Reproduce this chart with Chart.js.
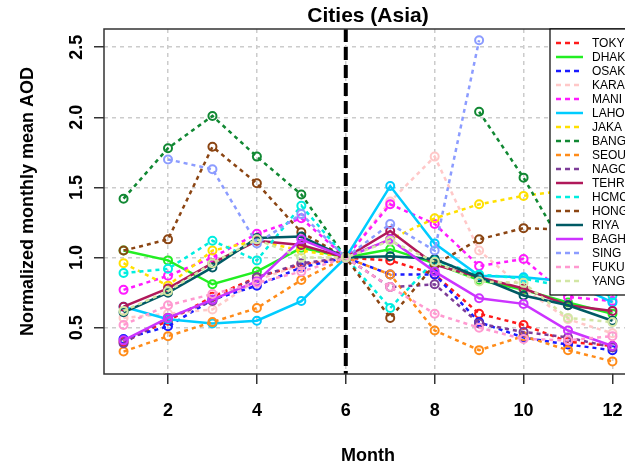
<!DOCTYPE html>
<html>
<head>
<meta charset="utf-8">
<script src="https://cdn.jsdelivr.net/npm/chart.js@4"></script>
<style>
html, body { margin: 0; padding: 0; background: #fff; overflow: hidden; width: 625px; height: 468px; }
#wrap { width: 645px; height: 468px; }
</style>
</head>
<body>
<div id="wrap"><canvas id="myChart" width="645" height="468"></canvas></div>
<script>
// data (normalized monthly mean AOD, month 6 = 1)
const months = [1, 2, 3, 4, 5, 6, 7, 8, 9, 10, 11, 12];
const xTicks = [2, 4, 6, 8, 10, 12];
const xTickLabels = ['2', '4', '6', '8', '10', '12'];
const yTicks = [0.5, 1.0, 1.5, 2.0, 2.5];
const yTickLabels = ['0.5', '1.0', '1.5', '2.0', '2.5'];

const cityNames = ['TOKY', 'DHAK', 'OSAK', 'KARA', 'MANI', 'LAHO', 'JAKA', 'BANG', 'SEOU',
                   'NAGO', 'TEHR', 'HCMC', 'HONG', 'RIYA', 'BAGH', 'SING', 'FUKU', 'YANG'];

const TOKY = [0.40, 0.55, 0.72, 0.86, 0.95, 1, 0.98, 0.88, 0.60, 0.52, 0.40, 0.37];
const DHAK = [1.05, 0.98, 0.81, 0.90, 1.07, 1, 1.06, 0.96, 0.84, 0.77, 0.68, 0.60];
const OSAK = [0.42, 0.51, 0.70, 0.80, 0.93, 1, 0.88, 0.88, 0.54, 0.43, 0.38, 0.34];
const KARA = [0.57, 0.60, 0.63, 0.84, 0.95, 1, 1.40, 1.72, 1.05, 0.78, 0.56, 0.46];
const MANI = [0.77, 0.87, 1.00, 1.17, 1.28, 1, 1.38, 1.24, 0.94, 0.99, 0.72, 0.69];
const LAHO = [0.65, 0.56, 0.53, 0.55, 0.69, 1, 1.51, 1.10, 0.87, 0.86, 0.83, 0.68];
const JAKA = [0.96, 0.80, 1.05, 1.12, 1.05, 1, 1.13, 1.28, 1.38, 1.44, 1.48, 1.55];
const BANG = [1.42, 1.78, 2.01, 1.72, 1.45, 1, null, null, 2.04, 1.57, 1.02, 0.92];
const SEOU = [0.33, 0.44, 0.54, 0.64, 0.84, 1, 0.88, 0.48, 0.34, 0.44, 0.34, 0.26];
const NAGO = [0.39, 0.57, 0.69, 0.86, 0.96, 1, 0.79, 0.81, 0.53, 0.47, 0.43, 0.36];
const TEHR = [0.65, 0.78, 0.96, 1.12, 1.09, 1, 1.19, 0.95, 0.86, 0.78, 0.66, 0.62];
const HCMC = [0.89, 0.92, 1.12, 0.98, 1.37, 1, 0.64, 0.98, 0.88, 0.85, 0.79, 0.73];
const HONG = [1.05, 1.13, 1.79, 1.53, 1.18, 1, 0.57, 0.95, 1.13, 1.21, 1.20, 1.10];
const RIYA = [0.61, 0.75, 0.93, 1.14, 1.15, 1, 1.01, 0.99, 0.86, 0.73, 0.66, 0.55];
const BAGH = [0.41, 0.57, 0.70, 0.83, 1.13, 1, 1.13, 0.90, 0.71, 0.67, 0.48, 0.37];
const SING = [null, 1.70, 1.63, 1.10, 1.31, 1, 1.24, 1.05, 2.55, null, null, null];
const FUKU = [0.52, 0.66, 0.74, 0.82, 0.90, 1, 0.79, 0.60, 0.50, 0.42, 0.41, 0.44];
const YANG = [0.62, 0.76, 0.96, 1.13, 1.00, 1, 1.12, 0.97, 0.83, 0.82, 0.57, 0.54];

const seriesList = [TOKY, DHAK, OSAK, KARA, MANI, LAHO, JAKA, BANG, SEOU,
                    NAGO, TEHR, HCMC, HONG, RIYA, BAGH, SING, FUKU, YANG];

// styles
const cityColors = ['#ff1a1a', '#22ee22', '#1a1aff', '#ffc8c8', '#ff1aff', '#00ccff', '#ffe000', '#118833', '#ff8c1a',
                    '#7d3c98', '#b0185a', '#00eee0', '#8b4513', '#005a64', '#cc33ff', '#8c9cff', '#ff99d0', '#d2e6a4'];
const solidCities = ['DHAK', 'LAHO', 'TEHR', 'RIYA', 'BAGH'];

const FONT = '"Liberation Sans", Arial, Helvetica, sans-serif';
const PLOT = { left: 104, top: 29, right: 632, bottom: 374 };

const ctx = document.getElementById('myChart').getContext('2d');

let datasets = [];
for (let i = 0; i < cityNames.length; i++) {
    let pts = [];
    for (let j = 0; j < months.length; j++) {
        pts.push({ x: months[j], y: seriesList[i][j] });
    }
    datasets.push({
        label: cityNames[i],
        data: pts,
        borderColor: cityColors[i],
        backgroundColor: 'rgba(0,0,0,0)',
        borderWidth: 2.5,
        borderDash: solidCities.includes(cityNames[i]) ? [] : [4, 4],
        pointRadius: 4,
        pointBorderWidth: 2,
        pointBackgroundColor: 'rgba(0,0,0,0)',
        pointBorderColor: cityColors[i],
        tension: 0,
        spanGaps: false,
        order: cityNames.length - i
    });
}

const decor = {
    id: 'decor',
    afterDatasetsDraw(chart) {
        const c = chart.ctx, xs = chart.scales.x, a = chart.chartArea;
        // vertical dashed line at month 6
        c.save();
        c.strokeStyle = '#000';
        c.lineWidth = 4;
        c.setLineDash([13, 5]);
        c.beginPath();
        c.moveTo(xs.getPixelForValue(6), a.top);
        c.lineTo(xs.getPixelForValue(6), a.bottom);
        c.stroke();
        c.restore();
    },
    afterDraw(chart) {
        const c = chart.ctx, xs = chart.scales.x, ys = chart.scales.y, a = chart.chartArea;
        c.save();
        // plot box
        c.strokeStyle = '#333';
        c.lineWidth = 1.5;
        c.setLineDash([]);
        c.strokeRect(a.left, a.top, a.right - a.left, a.bottom - a.top);

        c.fillStyle = '#000';
        c.textAlign = 'center';
        c.textBaseline = 'middle';
        c.font = 'bold 18px ' + FONT;
        for (let i = 0; i < xTicks.length; i++) {
            c.fillText(xTickLabels[i], xs.getPixelForValue(xTicks[i]), 411);
        }
        for (let i = 0; i < yTicks.length; i++) {
            c.save();
            c.translate(77, ys.getPixelForValue(yTicks[i]));
            c.rotate(-Math.PI / 2);
            c.fillText(yTickLabels[i], 0, 0);
            c.restore();
        }
        c.fillText('Month', (a.left + a.right) / 2, 456);
        c.save();
        c.translate(28, (a.top + a.bottom) / 2);
        c.rotate(-Math.PI / 2);
        c.fillText('Normalized monthly mean AOD', 0, 0);
        c.restore();
        c.font = 'bold 21px ' + FONT;
        c.fillText('Cities (Asia)', (a.left + a.right) / 2, 16);

        // legend
        const lx = 550, ly = a.top, lw = a.right - lx, lh = 266;
        c.fillStyle = '#fff';
        c.fillRect(lx, ly, lw, lh);
        c.strokeStyle = '#000';
        c.lineWidth = 1.2;
        c.strokeRect(lx, ly, lw, lh);
        c.font = '12px ' + FONT;
        c.textAlign = 'left';
        for (let i = 0; i < cityNames.length; i++) {
            const yy = ly + 14 + i * 14;
            c.strokeStyle = cityColors[i];
            c.lineWidth = 2.5;
            c.setLineDash(solidCities.includes(cityNames[i]) ? [] : [5, 4]);
            c.beginPath();
            c.moveTo(556, yy);
            c.lineTo(583, yy);
            c.stroke();
            c.fillStyle = '#000';
            c.fillText(cityNames[i], 592, yy + 1);
        }
        c.restore();
    }
};

const myChart = new Chart(ctx, {
    type: 'line',
    data: { datasets: datasets },
    options: {
        responsive: false,
        animation: false,
        devicePixelRatio: 1,
        layout: { padding: { left: 0, top: PLOT.top, right: 645 - PLOT.right, bottom: 0 } },
        plugins: { legend: { display: false }, tooltip: { enabled: false } },
        scales: {
            x: {
                type: 'linear',
                min: 0.56,
                max: 12.44,
                afterBuildTicks: s => { s.ticks = xTicks.map(v => ({ value: v })); },
                afterFit: s => { s.height = 468 - PLOT.bottom; },
                ticks: { display: false },
                grid: { color: '#cccccc', lineWidth: 1.5, drawTicks: true, tickLength: 10,
                        tickColor: '#333', tickWidth: 1.5, tickBorderDash: [] },
                border: { display: false, dash: [4, 4] }
            },
            y: {
                type: 'linear',
                min: 0.17,
                max: 2.63,
                afterBuildTicks: s => { s.ticks = yTicks.map(v => ({ value: v })); },
                afterFit: s => { s.width = PLOT.left; },
                ticks: { display: false },
                grid: { color: '#cccccc', lineWidth: 1.5, drawTicks: true, tickLength: 10,
                        tickColor: '#333', tickWidth: 1.5, tickBorderDash: [] },
                border: { display: false, dash: [4, 4] }
            }
        }
    },
    plugins: [decor]
});
</script>
</body>
</html>
